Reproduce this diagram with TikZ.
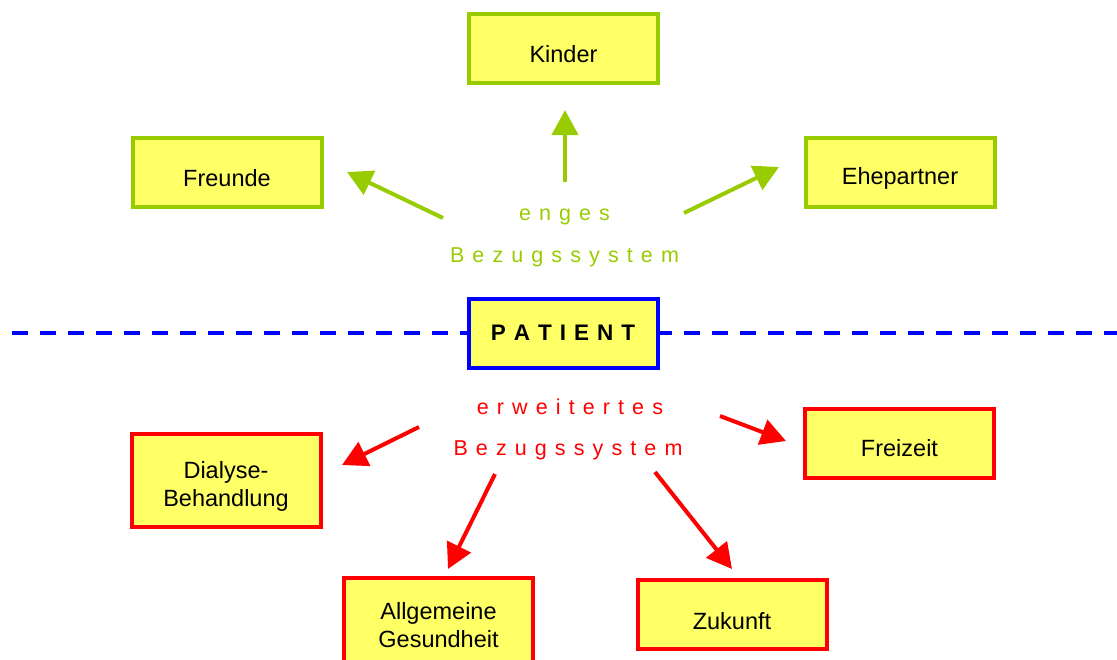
\documentclass[tikz,border=0pt]{standalone}
\usepackage{fontspec}
\setmainfont{Liberation Sans}
\usetikzlibrary{arrows.meta}
\definecolor{lgreen}{HTML}{99CC00}
\definecolor{byellow}{HTML}{FFFF66}
\definecolor{pred}{HTML}{FF0000}
\definecolor{pblue}{HTML}{0000FF}
\newcommand\ls{\kern8.1pt\relax}
\newcommand\lp{\kern8pt\relax}
\begin{document}
\begin{tikzpicture}[x=1pt,y=-1pt,
  box/.style={draw, fill=byellow, line width=4pt, minimum width=189pt, minimum height=69pt,
    inner sep=0pt},
  gbox/.style={box, draw=lgreen},
  rbox/.style={box, draw=pred},
  btext/.style={inner sep=0pt, align=center, font=\fontsize{23.5}{27.5}\selectfont},
  garr/.style={draw=lgreen, line width=4pt, -{Triangle[length=25pt,width=26pt]}},
  rarr/.style={draw=pred, line width=4pt, -{Triangle[length=25pt,width=26pt]}},
  sptext/.style={inner sep=0pt, anchor=base, font=\fontsize{21.5}{24}\selectfont},
  gtext/.style={sptext, text=lgreen},
  rtext/.style={sptext, text=pred}]
\useasboundingbox (0,0) rectangle (1117,659);
\begin{scope}
\clip (0,0) rectangle (1117,659);
% dashed separator
\coordinate (dl) at (12,333);
\coordinate (dr) at (1117,333);
\draw[pblue, line width=4pt, dash pattern=on 16pt off 12pt] (dl) -- (dr);
% boxes
\node[gbox] (kinder) at (563.5,48.5) {};
\node[gbox] (freunde) at (227,172) {};
\node[gbox] (ehe) at (900,172.5) {};
\node[box, draw=pblue] (patient) at (563,333.5) {};
\node[rbox, minimum height=93pt] (dialyse) at (226,480.5) {};
\node[rbox] (freizeit) at (899.5,443.5) {};
\node[rbox, minimum height=93pt] (allg) at (438.5,624.5) {};
\node[rbox] (zukunft) at (732,614.5) {};
% box texts
\node[btext] (kinderT) at ([yshift=-6pt]kinder.center) {Kinder};
\node[btext] (freundeT) at ([yshift=-6pt]freunde.center) {Freunde};
\node[btext] (eheT) at ([yshift=-6pt]ehe.center) {Ehepartner};
\node[btext, font=\fontsize{22.5}{26}\selectfont\bfseries] (patientT) at ([yshift=1pt]patient.center) {P\lp A\lp T\lp I\lp E\lp N\lp T};
\node[btext] (dialyseT) at ([yshift=-6pt]dialyse.center) {Dialyse-\\Behandlung};
\node[btext] (freizeitT) at ([yshift=-5pt]freizeit.center) {Freizeit};
\node[btext] (allgT) at ([yshift=-0.5pt]allg.center) {Allgemeine\\Gesundheit};
\node[btext] (zukunftT) at ([yshift=-6.5pt]zukunft.center) {Zukunft};
% labels
\node[gtext] (enges) at (564.5,220.5) {e\ls n\ls g\ls e\ls s};
\node[gtext] (gbez) at (564.5,262.7) {B\ls e\ls z\ls u\ls g\ls s\ls s\ls y\ls s\ls t\ls e\ls m};
\node[rtext] (erw) at (570,414) {e\ls r\ls w\ls e\ls i\ls t\ls e\ls r\ls t\ls e\ls s};
\node[rtext] (rbez) at (568,455.7) {B\ls e\ls z\ls u\ls g\ls s\ls s\ls y\ls s\ls t\ls e\ls m};
% arrow end points
\coordinate (g1s) at (565,182); \coordinate (g1e) at (565,110);
\coordinate (g2s) at (443,218); \coordinate (g2e) at (347,172);
\coordinate (g3s) at (684,213); \coordinate (g3e) at (779,167);
\coordinate (r1s) at (419,427); \coordinate (r1e) at (342,465);
\coordinate (r2s) at (720,416); \coordinate (r2e) at (786,441);
\coordinate (r3s) at (495,474); \coordinate (r3e) at (448,569);
\coordinate (r4s) at (655,472); \coordinate (r4e) at (732,569);
\draw[garr] (g1s) -- (g1e);
\draw[garr] (g2s) -- (g2e);
\draw[garr] (g3s) -- (g3e);
\draw[rarr] (r1s) -- (r1e);
\draw[rarr] (r2s) -- (r2e);
\draw[rarr] (r3s) -- (r3e);
\draw[rarr] (r4s) -- (r4e);
\end{scope}
\end{tikzpicture}
\end{document}
